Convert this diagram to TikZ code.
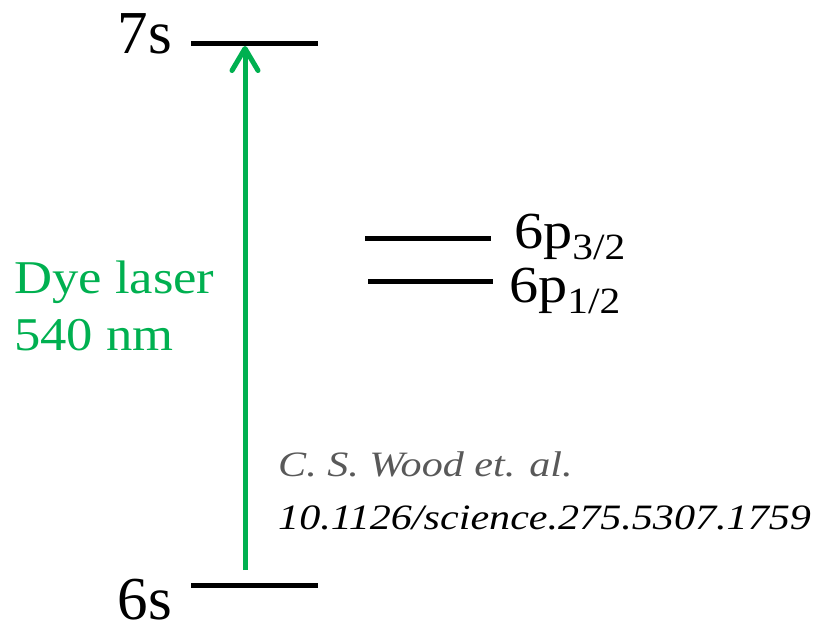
\documentclass[tikz,border=0pt]{standalone}
\usepackage{fontspec}
\setmainfont{Liberation Serif}
\newfontfamily\widefont[FakeStretch=1.12]{Liberation Serif}
\newfontfamily\citefont[FakeStretch=1.18]{Liberation Serif}
\usetikzlibrary{arrows.meta}
\definecolor{lasergreen}{HTML}{00B050}
\definecolor{citegray}{HTML}{595959}
\newcommand{\psub}[1]{\raisebox{-11pt}{\fontsize{37}{40}\selectfont #1}}
\tikzset{
  level/.style={line width=5pt},
  lvltext/.style={inner sep=0pt, font=\fontsize{61}{70}\selectfont},
  ptext/.style={inner sep=0pt, font=\widefont\fontsize{52}{60}\selectfont},
  greentext/.style={inner sep=0pt, text=lasergreen, font=\widefont\fontsize{47}{54}\selectfont},
  citetext/.style={inner sep=0pt, font=\citefont\fontsize{35.7}{40}\selectfont\itshape},
  laser/.style={lasergreen, line width=5pt, -{Straight Barb[length=22pt,width=26pt,line cap=round,line join=round]}}
}
\begin{document}
\begin{tikzpicture}[x=1pt,y=-1pt]
\useasboundingbox (0,0) rectangle (831,627);
% levels
\coordinate (s7a) at (191,43);  \coordinate (s7b) at (318,43);
\coordinate (s6a) at (191,585); \coordinate (s6b) at (318,585);
\coordinate (p3a) at (365,238); \coordinate (p3b) at (491,238);
\coordinate (p1a) at (368,281); \coordinate (p1b) at (493,281);
\draw[level] (s7a) -- (s7b);
\draw[level] (s6a) -- (s6b);
\draw[level] (p3a) -- (p3b);
\draw[level] (p1a) -- (p1b);
% labels
\node[lvltext, anchor=base east] (l7s) at (172,53) {7s};
\node[lvltext, anchor=base east] (l6s) at (172,619) {6s};
\node[ptext, anchor=base west] (lp3) at (514,248) {6p\psub{3/2}};
\node[ptext, anchor=base west] (lp1) at (509,302) {6p\psub{1/2}};
% laser
\coordinate (arrS) at (245,570);
\coordinate (arrE) at (245,46);
\draw[laser] (arrS) -- (arrE);
\node[greentext, anchor=base west] (dye) at (14,293) {Dye laser};
\node[greentext, anchor=base west] (nm) at (14,350) {540 nm};
% citation
\node[citetext, text=citegray, anchor=base west] (c1) at (278,476) {C. S. Wood et. al.};
\node[citetext, anchor=base west] (c2) at (278,529) {10.1126/science.275.5307.1759};
\end{tikzpicture}
\end{document}
